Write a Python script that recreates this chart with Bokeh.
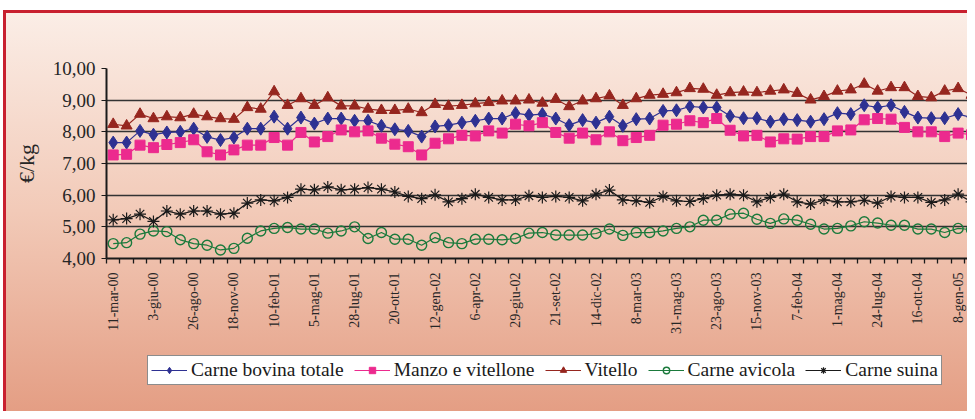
from bokeh.plotting import figure
from bokeh.layouts import column
from bokeh.models import Range1d, FixedTicker, Legend, LegendItem
from bokeh.embed import file_html
from bokeh.resources import INLINE

tick_labels = ["11-mar-00", "3-giu-00", "26-ago-00", "18-nov-00", "10-feb-01", "5-mag-01",
               "28-lug-01", "20-ott-01", "12-gen-02", "6-apr-02", "29-giu-02", "21-set-02",
               "14-dic-02", "8-mar-03", "31-mag-03", "23-ago-03", "15-nov-03", "7-feb-04",
               "1-mag-04", "24-lug-04", "16-ott-04", "8-gen-05"]

bovina = [7.66, 7.66, 8.03, 7.91, 7.98, 8.00, 8.10, 7.84, 7.74, 7.82, 8.10, 8.10, 8.48,
          8.10, 8.45, 8.26, 8.42, 8.42, 8.35, 8.35, 8.19, 8.08, 8.03, 7.85, 8.17, 8.21,
          8.29, 8.35, 8.42, 8.42, 8.59, 8.53, 8.56, 8.42, 8.21, 8.37, 8.29, 8.48, 8.19,
          8.40, 8.42, 8.66, 8.68, 8.80, 8.77, 8.77, 8.50, 8.43, 8.43, 8.32, 8.40,
          8.37, 8.32, 8.40, 8.59, 8.56, 8.84, 8.77, 8.84, 8.63, 8.45, 8.43, 8.43, 8.56, 8.45]

manzo = [7.27, 7.29, 7.58, 7.50, 7.60, 7.66, 7.75, 7.37, 7.27, 7.43, 7.58, 7.58, 7.82,
         7.58, 7.98, 7.68, 7.85, 8.06, 8.00, 8.03, 7.80, 7.61, 7.53, 7.27, 7.64, 7.78,
         7.89, 7.87, 8.03, 7.96, 8.24, 8.19, 8.29, 7.98, 7.80, 7.96, 7.75, 8.00, 7.72,
         7.82, 7.89, 8.21, 8.24, 8.35, 8.29, 8.42, 8.05, 7.87, 7.89, 7.68, 7.78,
         7.77, 7.85, 7.85, 8.03, 8.06, 8.38, 8.42, 8.40, 8.14, 8.00, 8.00, 7.85, 7.96, 7.91]

vitello = [8.24, 8.19, 8.56, 8.42, 8.48, 8.45, 8.56, 8.48, 8.42, 8.40, 8.77, 8.72, 9.27,
           8.84, 9.05, 8.84, 9.08, 8.82, 8.82, 8.72, 8.68, 8.68, 8.72, 8.61, 8.87, 8.81,
           8.84, 8.89, 8.93, 8.98, 8.98, 9.01, 8.91, 9.03, 8.80, 8.98, 9.05, 9.14, 8.84,
           9.05, 9.16, 9.19, 9.24, 9.37, 9.35, 9.16, 9.24, 9.26, 9.24, 9.29, 9.33,
           9.22, 9.01, 9.12, 9.29, 9.33, 9.51, 9.29, 9.40, 9.40, 9.12, 9.08, 9.29, 9.37, 9.16]

avicola = [4.47, 4.50, 4.77, 4.87, 4.85, 4.59, 4.47, 4.42, 4.27, 4.32, 4.64, 4.87, 4.95,
           4.98, 4.93, 4.93, 4.80, 4.87, 5.00, 4.63, 4.82, 4.61, 4.61, 4.42, 4.66, 4.50,
           4.47, 4.61, 4.61, 4.59, 4.63, 4.80, 4.82, 4.74, 4.74, 4.74, 4.79, 4.93, 4.73,
           4.82, 4.82, 4.87, 4.95, 5.00, 5.21, 5.21, 5.40, 5.43, 5.24, 5.11, 5.25,
           5.21, 5.08, 4.93, 4.95, 5.03, 5.16, 5.12, 5.05, 5.05, 4.93, 4.93, 4.82, 4.95, 4.91]

suina = [5.22, 5.26, 5.40, 5.17, 5.50, 5.40, 5.50, 5.50, 5.40, 5.43, 5.75, 5.85, 5.82,
         5.93, 6.19, 6.17, 6.26, 6.17, 6.19, 6.24, 6.19, 6.10, 5.96, 5.89, 6.01, 5.79,
         5.89, 6.03, 5.93, 5.85, 5.85, 5.98, 5.93, 5.96, 5.93, 5.82, 6.03, 6.16, 5.85,
         5.82, 5.77, 5.96, 5.82, 5.80, 5.89, 6.00, 6.03, 6.00, 5.79, 5.93, 6.03,
         5.79, 5.72, 5.85, 5.79, 5.79, 5.84, 5.75, 5.96, 5.93, 5.93, 5.77, 5.85, 6.03, 5.79]

y_ticks = [4, 5, 6, 7, 8, 9, 10]
y_tick_labels = ["4,00", "5,00", "6,00", "7,00", "8,00", "9,00", "10,00"]

series_names = ["Carne bovina totale", "Manzo e vitellone", "Vitello", "Carne avicola", "Carne suina"]
series_colors = ["#2E3192", "#EC2A8E", "#96261F", "#1B7A3C", "#1A1A1A"]
series_markers = ["diamond", "square", "triangle", "circle", "asterisk"]
marker_sizes = [13, 10, 11, 10, 12]
marker_filled = [True, True, True, False, False]
marker_line_widths = [1, 1, 1, 1.4, 1.2]

n = len(bovina)
x = list(range(n))
all_series = [bovina, manzo, vitello, avicola, suina]

FONT = "Liberation Serif"
W = 967

p = figure(width=W, height=345, output_backend="svg", toolbar_location=None,
           x_range=Range1d(-0.5, 63.7), y_range=Range1d(4, 10),
           min_border_left=106, min_border_right=0, min_border_top=68, min_border_bottom=87)
p.background_fill_color = None
p.border_fill_color = None
p.outline_line_color = None

# y axis
p.yaxis.ticker = FixedTicker(ticks=y_ticks)
p.yaxis.major_label_overrides = {t: l for t, l in zip(y_ticks, y_tick_labels)}
p.yaxis.major_label_text_font = FONT
p.yaxis.major_label_text_font_size = "19px"
p.yaxis.major_label_text_color = "#262626"
p.yaxis.axis_line_color = "#1A1A1A"
p.yaxis.axis_line_width = 2
p.yaxis.major_tick_line_color = "#1A1A1A"
p.yaxis.major_tick_out = 5
p.yaxis.major_tick_in = 0
p.yaxis.minor_tick_line_color = None
p.yaxis.major_label_standoff = 6
p.yaxis.axis_label = "€/kg"
p.yaxis.axis_label_text_font = FONT
p.yaxis.axis_label_text_font_size = "22px"
p.yaxis.axis_label_text_font_style = "normal"
p.yaxis.axis_label_text_color = "#262626"
p.yaxis.axis_label_standoff = 11

# x axis
xt = list(range(0, 3 * len(tick_labels), 3))
p.xaxis.ticker = FixedTicker(ticks=xt, minor_ticks=[i - 0.5 for i in range(n + 1)])
p.xaxis.major_label_overrides = {t: l for t, l in zip(xt, tick_labels)}
p.xaxis.major_label_orientation = 3.14159265 / 2
p.xaxis.major_label_text_font = FONT
p.xaxis.major_label_text_font_size = "14px"
p.xaxis.major_label_text_color = "#262626"
p.xaxis.axis_line_color = "#1A1A1A"
p.xaxis.axis_line_width = 2
p.xaxis.major_tick_line_color = None
p.xaxis.major_tick_out = 0
p.xaxis.major_tick_in = 0
p.xaxis.minor_tick_line_color = "#1A1A1A"
p.xaxis.minor_tick_line_width = 1.3
p.xaxis.minor_tick_out = 5
p.xaxis.minor_tick_in = 0
p.xaxis.major_label_standoff = 9

p.xgrid.visible = False
p.ygrid.ticker = FixedTicker(ticks=y_ticks)
p.ygrid.grid_line_color = "#333333"
p.ygrid.grid_line_width = 1.5

for vals, col, mk, sz, filled, mlw in zip(all_series, series_colors, series_markers,
                                          marker_sizes, marker_filled, marker_line_widths):
    p.line(x, vals, line_color=col, line_width=1.2)
    p.scatter(x, vals, marker=mk, size=sz, fill_color=col if filled else None,
              line_color=col, line_width=mlw)

# legend in its own strip below the chart (its series lie outside this strip's ranges)
lg = figure(width=W, height=66, output_backend="svg", toolbar_location=None,
            x_range=Range1d(-200, -199), y_range=Range1d(-200, -199),
            x_axis_location=None, y_axis_location=None,
            min_border_left=0, min_border_right=0, min_border_top=0, min_border_bottom=0)
lg.background_fill_color = None
lg.border_fill_color = None
lg.outline_line_color = None
lg.xgrid.visible = False
lg.ygrid.visible = False

items = []
for name, vals, col, mk, sz, filled, mlw in zip(series_names, all_series, series_colors,
                                                series_markers, marker_sizes, marker_filled,
                                                marker_line_widths):
    lr = lg.line(x, vals, line_color=col, line_width=1.2)
    sr = lg.scatter(x, vals, marker=mk, size=sz - 1, fill_color=col if filled else None,
                    line_color=col, line_width=mlw)
    items.append(LegendItem(label=name, renderers=[lr, sr]))

legend = Legend(items=items, orientation="horizontal", location=(41, 26))
legend.label_text_font = FONT
legend.label_text_font_size = "19.5px"
legend.label_text_color = "#1A1A1A"
legend.border_line_color = "#1A1A1A"
legend.border_line_width = 1.2
legend.background_fill_color = "white"
legend.background_fill_alpha = 1
legend.glyph_width = 36
legend.glyph_height = 16
legend.label_standoff = 4
legend.spacing = 10
legend.padding = 3
legend.margin = 0
legend.label_height = 18
lg.add_layout(legend, "center")

layout = column(p, lg, spacing=0)
RED = "#C8202F"
layout.styles = {
    "background": (
        f"linear-gradient({RED}, {RED}) 3px 10px / 3px calc(100% - 10px) no-repeat, "
        f"linear-gradient({RED}, {RED}) 3px 10px / calc(100% - 3px) 3px no-repeat, "
        "linear-gradient(to bottom, #FBEEE7 0%, #F2CAB8 50%, #E49E84 100%) "
        "3px 10px / calc(100% - 3px) calc(100% - 10px) no-repeat, white"
    )
}

open("out.html", "w").write(file_html(layout, INLINE))
